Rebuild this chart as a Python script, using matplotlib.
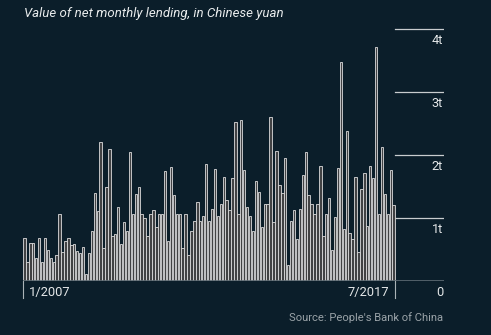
import numpy as np
import matplotlib
matplotlib.use('Agg')
import matplotlib.pyplot as plt

# net monthly lending (trillion yuan), 1/2007 .. 7/2017
lending = [
    0.68, 0.30, 0.61, 0.60, 0.36, 0.69, 0.30, 0.68, 0.50, 0.36, 0.30, 0.41,  # 2007
    1.06, 0.46, 0.63, 0.69, 0.57, 0.58, 0.47, 0.44, 0.54, 0.11, 0.44, 0.79,  # 2008
    1.39, 1.11, 2.20, 0.52, 1.49, 2.10, 0.72, 0.74, 1.17, 0.58, 0.93, 0.79,  # 2009
    2.04, 1.06, 1.38, 1.49, 1.06, 1.00, 0.71, 1.06, 1.12, 0.85, 1.06, 1.06,  # 2010
    1.74, 0.63, 1.81, 1.36, 1.06, 1.06, 0.52, 1.06, 0.41, 0.79, 0.95, 1.26,  # 2011
    0.96, 1.03, 1.86, 0.95, 1.14, 1.77, 1.03, 1.23, 1.65, 1.28, 1.12, 1.63,  # 2012
    2.53, 1.06, 2.55, 1.76, 1.17, 1.03, 0.79, 1.58, 1.41, 0.85, 1.22, 1.22,  # 2013
    2.60, 0.93, 2.07, 1.52, 1.39, 1.96, 0.25, 0.95, 1.12, 0.66, 1.14, 1.69,  # 2014
    2.04, 1.36, 1.23, 1.06, 1.22, 1.82, 0.72, 1.06, 1.32, 0.50, 1.01, 1.80,  # 2015
    3.48, 0.82, 2.38, 0.76, 0.66, 1.65, 0.46, 1.46, 1.71, 0.88, 1.82, 1.63,  # 2016
    3.72, 1.06, 2.13, 1.38, 1.06, 1.76, 1.20,                                # 2017
]
y_ticks = [1, 2, 3, 4]
y_labels = ['1t', '2t', '3t', '4t']
x_labels = ['1/2007', '7/2017']

bg = '#0b1e2a'
W, H = 491, 335
fig = plt.figure(figsize=(W / 100, H / 100), dpi=100, facecolor=bg)

# axes: left edge at px 23, right at 444, baseline at px 281, 63 px per trillion
ymax = 4.2
ax = fig.add_axes([23 / W, (H - 281) / H, (444 - 23) / W, 63 * ymax / H])
ax.set_facecolor(bg)
ax.set_xlim(-0.5, -0.5 + 421 / 2.93)
ax.set_ylim(0, ymax)
for s in ax.spines.values():
    s.set_visible(False)
ax.set_xticks([])
ax.set_yticks([])

x = np.arange(len(lending))
ax.bar(x, lending, width=0.82, color='#414244', edgecolor='#dcdcdc', linewidth=0.6, zorder=2)

last = len(lending) - 0.5
xr = ax.get_xlim()[1]
# short gridlines to the right of the bars
for v, lab in zip(y_ticks, y_labels):
    ax.plot([last, xr], [v, v], color='#c9cdcf', lw=0.9, zorder=1)
    ax.text(xr - 0.3, v - 0.19, lab, color='#e4e7e8', fontsize=9.2,
            ha='right', va='center', family='Roboto')
ax.axhline(0, color='#5e6c74', lw=1.2, zorder=3)
ax.text(xr - 0.3, -0.19, '0', color='#e4e7e8', fontsize=9.2,
        ha='right', va='center', family='Roboto', clip_on=False)

# x markers
for xt in [-0.5, last]:
    ax.plot([xt, xt], [0, -0.27], color='#aab3b7', lw=0.8, clip_on=False)
ax.text(1.5, -0.19, x_labels[0], color='#e4e7e8', fontsize=9.3, ha='left', va='center',
        family='Roboto')
ax.text(last - 2.0, -0.19, x_labels[1], color='#e4e7e8', fontsize=9.3, ha='right', va='center',
        family='Roboto')

fig.text(24 / W, 1 - 14 / H, 'Value of net monthly lending, in Chinese yuan', color='#e8ebec',
         fontsize=9.5, style='italic', family='Roboto', ha='left', va='center')
fig.text(443 / W, 1 - 318 / H, "Source: People's Bank of China", color='#9aa3a8',
         fontsize=8.1, family='Roboto', ha='right', va='center')

fig.savefig('out.png', dpi=100, facecolor=bg)
